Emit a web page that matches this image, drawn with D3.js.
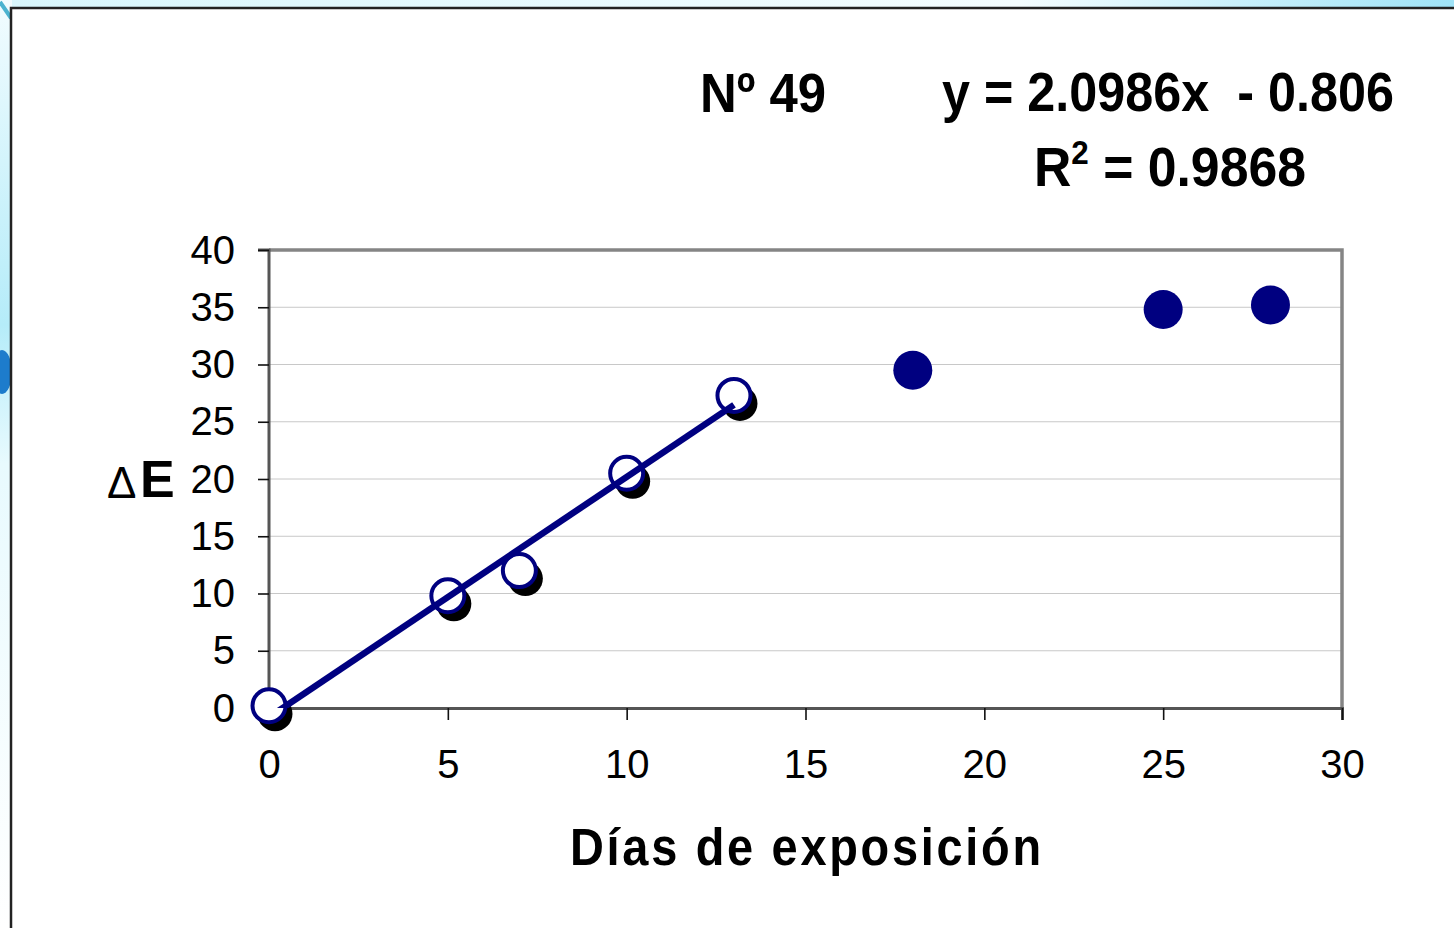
<!DOCTYPE html>
<html>
<head>
<meta charset="utf-8">
<script src="https://cdn.jsdelivr.net/npm/d3@7"></script>
<style>
  html, body { margin: 0; padding: 0; background: #fff; overflow: hidden; }
  svg { display: block; }
  text { font-family: "Liberation Sans", Arial, sans-serif; }
</style>
</head>
<body>
<svg id="chart" width="1454" height="928"></svg>
<script>
// measured points (days of exposure vs colour change)
let daysFit = [0, 5, 7, 10, 13];
let deltaEFit = [0.2, 9.8, 12.0, 20.5, 27.3];
let daysLate = [18, 25, 28];
let deltaELate = [29.5, 34.8, 35.2];

// linear fit shown on the chart
let slope = 2.0986, intercept = -0.806, r2 = 0.9868;
let sampleLabel = "Nº 49";

let xTicks = [0, 5, 10, 15, 20, 25, 30];
let yTicks = [0, 5, 10, 15, 20, 25, 30, 35, 40];

let navy = "#000080";

let svg = d3.select("#chart");
let defs = svg.append("defs");

// slide background peeking out round the white box
let bg = defs.append("linearGradient").attr("id", "bg").attr("x1", 0).attr("x2", 1).attr("y1", 0).attr("y2", 0);
bg.append("stop").attr("offset", "0%").attr("stop-color", "#d8f6fc");
bg.append("stop").attr("offset", "70%").attr("stop-color", "#f4fdff");
bg.append("stop").attr("offset", "100%").attr("stop-color", "#9fe3f7");
let bgl = defs.append("linearGradient").attr("id", "bgl").attr("x1", 0).attr("x2", 0).attr("y1", 0).attr("y2", 1);
bgl.append("stop").attr("offset", "0%").attr("stop-color", "#f2fcff");
bgl.append("stop").attr("offset", "35%").attr("stop-color", "#b5ecf9");
bgl.append("stop").attr("offset", "50%").attr("stop-color", "#e8fafe");
bgl.append("stop").attr("offset", "100%").attr("stop-color", "#ffffff");

svg.append("rect").attr("width", 1454).attr("height", 928).attr("fill", "url(#bg)");
svg.append("rect").attr("width", 12).attr("height", 928).attr("fill", "url(#bgl)");
svg.append("ellipse").attr("cx", 2).attr("cy", 372).attr("rx", 10).attr("ry", 22).attr("fill", "#1d7ccc");
svg.append("line").attr("x1", 0).attr("y1", 2).attr("x2", 11).attr("y2", 18)
  .attr("stroke", "#4cb3d0").attr("stroke-width", 4);
svg.append("rect").attr("x", 11).attr("y", 8).attr("width", 1460).attr("height", 940)
  .attr("fill", "#fff").attr("stroke", "#222").attr("stroke-width", 2.5);

// scales
let x = d3.scaleLinear().domain([0, 30]).range([269, 1342]);
let y = d3.scaleLinear().domain([0, 40]).range([708, 250]);

defs.append("clipPath").attr("id", "plotclip").append("rect")
  .attr("x", x(0)).attr("y", y(40)).attr("width", x(30) - x(0)).attr("height", y(0) - y(40));

// gridlines
svg.append("g").selectAll("line").data(yTicks.filter(d => d > 0 && d < 40)).join("line")
  .attr("x1", x(0)).attr("x2", x(30))
  .attr("y1", d => y(d)).attr("y2", d => y(d))
  .attr("stroke", "#c8c8c8").attr("stroke-width", 1);

// plot frame (top and right)
svg.append("path")
  .attr("d", `M${x(0)},${y(40)}H${x(30)}V${y(0)}`)
  .attr("fill", "none").attr("stroke", "#858585").attr("stroke-width", 3.5);

// axes
let yAxis = svg.append("g").attr("transform", `translate(${x(0)},0)`)
  .call(d3.axisLeft(y).tickValues(yTicks).tickSize(11).tickPadding(24));
let xAxis = svg.append("g").attr("transform", `translate(0,${y(0)})`)
  .call(d3.axisBottom(x).tickValues(xTicks).tickSize(12).tickPadding(30));
for(let ax of [yAxis, xAxis]) {
  ax.select(".domain").attr("stroke", "#555").attr("stroke-width", 3);
  ax.selectAll(".tick line").attr("stroke", "#111").attr("stroke-width", 1.6);
  ax.selectAll(".tick text").attr("font-size", 40).attr("fill", "#000")
    .attr("font-family", "'Liberation Sans', Arial, sans-serif");
}
yAxis.select(".domain").attr("d", `M-11,${y(40)}H0V${y(0)}`);
yAxis.selectAll(".tick text").attr("dy", "0.33em").attr("x", -34);
xAxis.selectAll(".tick text").attr("dy", "0.71em");

// markers: shadowed open circles for the fitted points
let fitPts = daysFit.map((d, i) => [d, deltaEFit[i]]);
let latePts = daysLate.map((d, i) => [d, deltaELate[i]]);

svg.append("g").selectAll("circle").data(fitPts).join("circle")
  .attr("cx", d => x(d[0]) + 6).attr("cy", d => y(d[1]) + 8).attr("r", 17.5)
  .attr("fill", "#000");
svg.append("g").selectAll("circle").data(fitPts).join("circle")
  .attr("cx", d => x(d[0])).attr("cy", d => y(d[1])).attr("r", 16.5)
  .attr("fill", "#fff").attr("stroke", navy).attr("stroke-width", 4);

// trend line
let fit = d => slope * d + intercept;
svg.append("line")
  .attr("clip-path", "url(#plotclip)")
  .attr("x1", x(0)).attr("y1", y(fit(0)))
  .attr("x2", x(13)).attr("y2", y(fit(13)))
  .attr("stroke", navy).attr("stroke-width", 6.5);

svg.append("g").selectAll("circle").data(latePts).join("circle")
  .attr("cx", d => x(d[0])).attr("cy", d => y(d[1])).attr("r", 19.5)
  .attr("fill", navy);

// squeeze a text element to the width it has in the picture
function fitWidth(t, left, width) {
  let w = t.node().getComputedTextLength();
  let cy = +t.attr("y");
  t.attr("x", 0).attr("y", 0)
    .attr("transform", `translate(${left},${cy}) scale(${width / w},1)`);
}

// annotations
let boldFont = "'Liberation Sans Narrow', 'Liberation Sans', Arial, sans-serif";
let t1 = svg.append("text").attr("y", 112).attr("font-size", 56).attr("font-weight", "bold")
  .attr("font-family", boldFont).text(sampleLabel);
fitWidth(t1, 700, 126);

let t2 = svg.append("text").attr("y", 111).attr("font-size", 56).attr("font-weight", "bold")
  .attr("font-family", boldFont).style("white-space", "pre")
  .text(`y = ${slope}x  - ${Math.abs(intercept)}`);
fitWidth(t2, 942, 452);

let t3 = svg.append("text").attr("y", 186).attr("font-size", 56).attr("font-weight", "bold")
  .attr("font-family", boldFont);
t3.append("tspan").text("R");
t3.append("tspan").attr("font-size", 34).attr("dy", -22).text("2");
t3.append("tspan").attr("dy", 22).text(` = ${r2}`);
fitWidth(t3, 1034, 272);

// axis titles
let xt = svg.append("text").attr("y", 865).attr("font-size", 52).attr("font-weight", "bold")
  .attr("letter-spacing", 3).style("white-space", "pre").text("Días de exposición");
fitWidth(xt, 570, 474);

svg.append("text").attr("x", 107).attr("y", 498).attr("font-size", 44).text("Δ");
svg.append("text").attr("x", 140).attr("y", 497).attr("font-size", 52).attr("font-weight", "bold").text("E");
</script>
</body>
</html>
